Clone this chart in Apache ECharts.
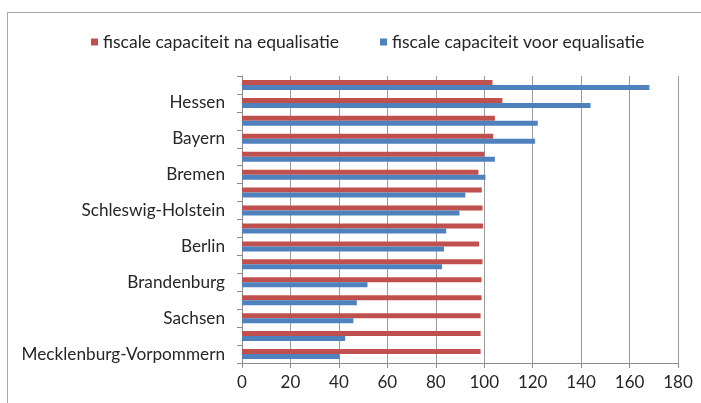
<!DOCTYPE html>
<html>
<head>
<meta charset="utf-8">
<script src="https://cdn.jsdelivr.net/npm/echarts@6/dist/echarts.min.js"></script>
<style>
  html, body { margin: 0; padding: 0; background: #fff; }
  #chart { width: 701px; height: 403px; }
</style>
</head>
<body>
<div id="chart"></div>
<script>
// categories from bottom to top (ECharts category y axis starts at the bottom)
const states = [
  "Mecklenburg-Vorpommern", "Sachsen-Anhalt", "Sachsen", "Thüringen",
  "Brandenburg", "Saarland", "Berlin", "Niedersachsen",
  "Schleswig-Holstein", "Rheinland-Pfalz", "Bremen", "Nordrhein-Westfalen",
  "Bayern", "Baden-Württemberg", "Hessen", "Hamburg"
];
const naEqualisatie = [98.5, 98.5, 98.5, 98.9, 98.9, 99.3, 97.9, 99.5, 99.3, 99.0, 97.6, 100.0, 103.7, 104.4, 107.5, 103.4];
const voorEqualisatie = [40.3, 42.6, 46.0, 47.4, 51.8, 82.6, 83.4, 84.3, 89.8, 92.2, 100.5, 104.4, 121.0, 122.1, 143.9, 168.2];
const seriesNames = ["fiscale capaciteit na equalisatie", "fiscale capaciteit voor equalisatie"];

const chart = echarts.init(document.getElementById("chart"));
const font = "Lato, 'Open Sans', sans-serif";
const axisGray = "#8c8c8c";
const textColor = "#262626";

chart.setOption({
  animation: false,
  textStyle: { fontFamily: font },
  graphic: [{
    type: "rect",
    shape: { x: 7.5, y: 12.5, width: 720, height: 420 },
    style: { fill: "none", stroke: "#a6a6a6", lineWidth: 1 }
  }],
  legend: {
    data: seriesNames,
    top: 28,
    left: 86,
    itemWidth: 7,
    itemHeight: 7,
    itemGap: 41,
    icon: "rect",
    textStyle: { fontSize: 17.5, color: textColor, fontFamily: font }
  },
  grid: { left: 242, right: 23, top: 76, bottom: 40 },
  xAxis: {
    type: "value",
    min: 0,
    max: 180,
    interval: 20,
    axisLine: { show: true, lineStyle: { color: axisGray } },
    axisTick: { show: true, length: 5, lineStyle: { color: axisGray } },
    splitLine: { lineStyle: { color: "#9a9a9a" } },
    axisLabel: { fontSize: 17, color: textColor, margin: 11 }
  },
  yAxis: {
    type: "category",
    data: states,
    axisLine: { lineStyle: { color: axisGray } },
    axisTick: { show: true, interval: 0, length: 5, lineStyle: { color: axisGray } },
    axisLabel: { interval: 1, fontSize: 17.2, color: textColor, margin: 17 }
  },
  series: [
    {
      name: seriesNames[0],
      type: "bar",
      data: naEqualisatie,
      barWidth: 5,
      barGap: "0%",
      itemStyle: { color: "#c0504d" }
    },
    {
      name: seriesNames[1],
      type: "bar",
      data: voorEqualisatie,
      barWidth: 5,
      barGap: "0%",
      itemStyle: { color: "#4f81bd" }
    }
  ]
});
</script>
</body>
</html>
